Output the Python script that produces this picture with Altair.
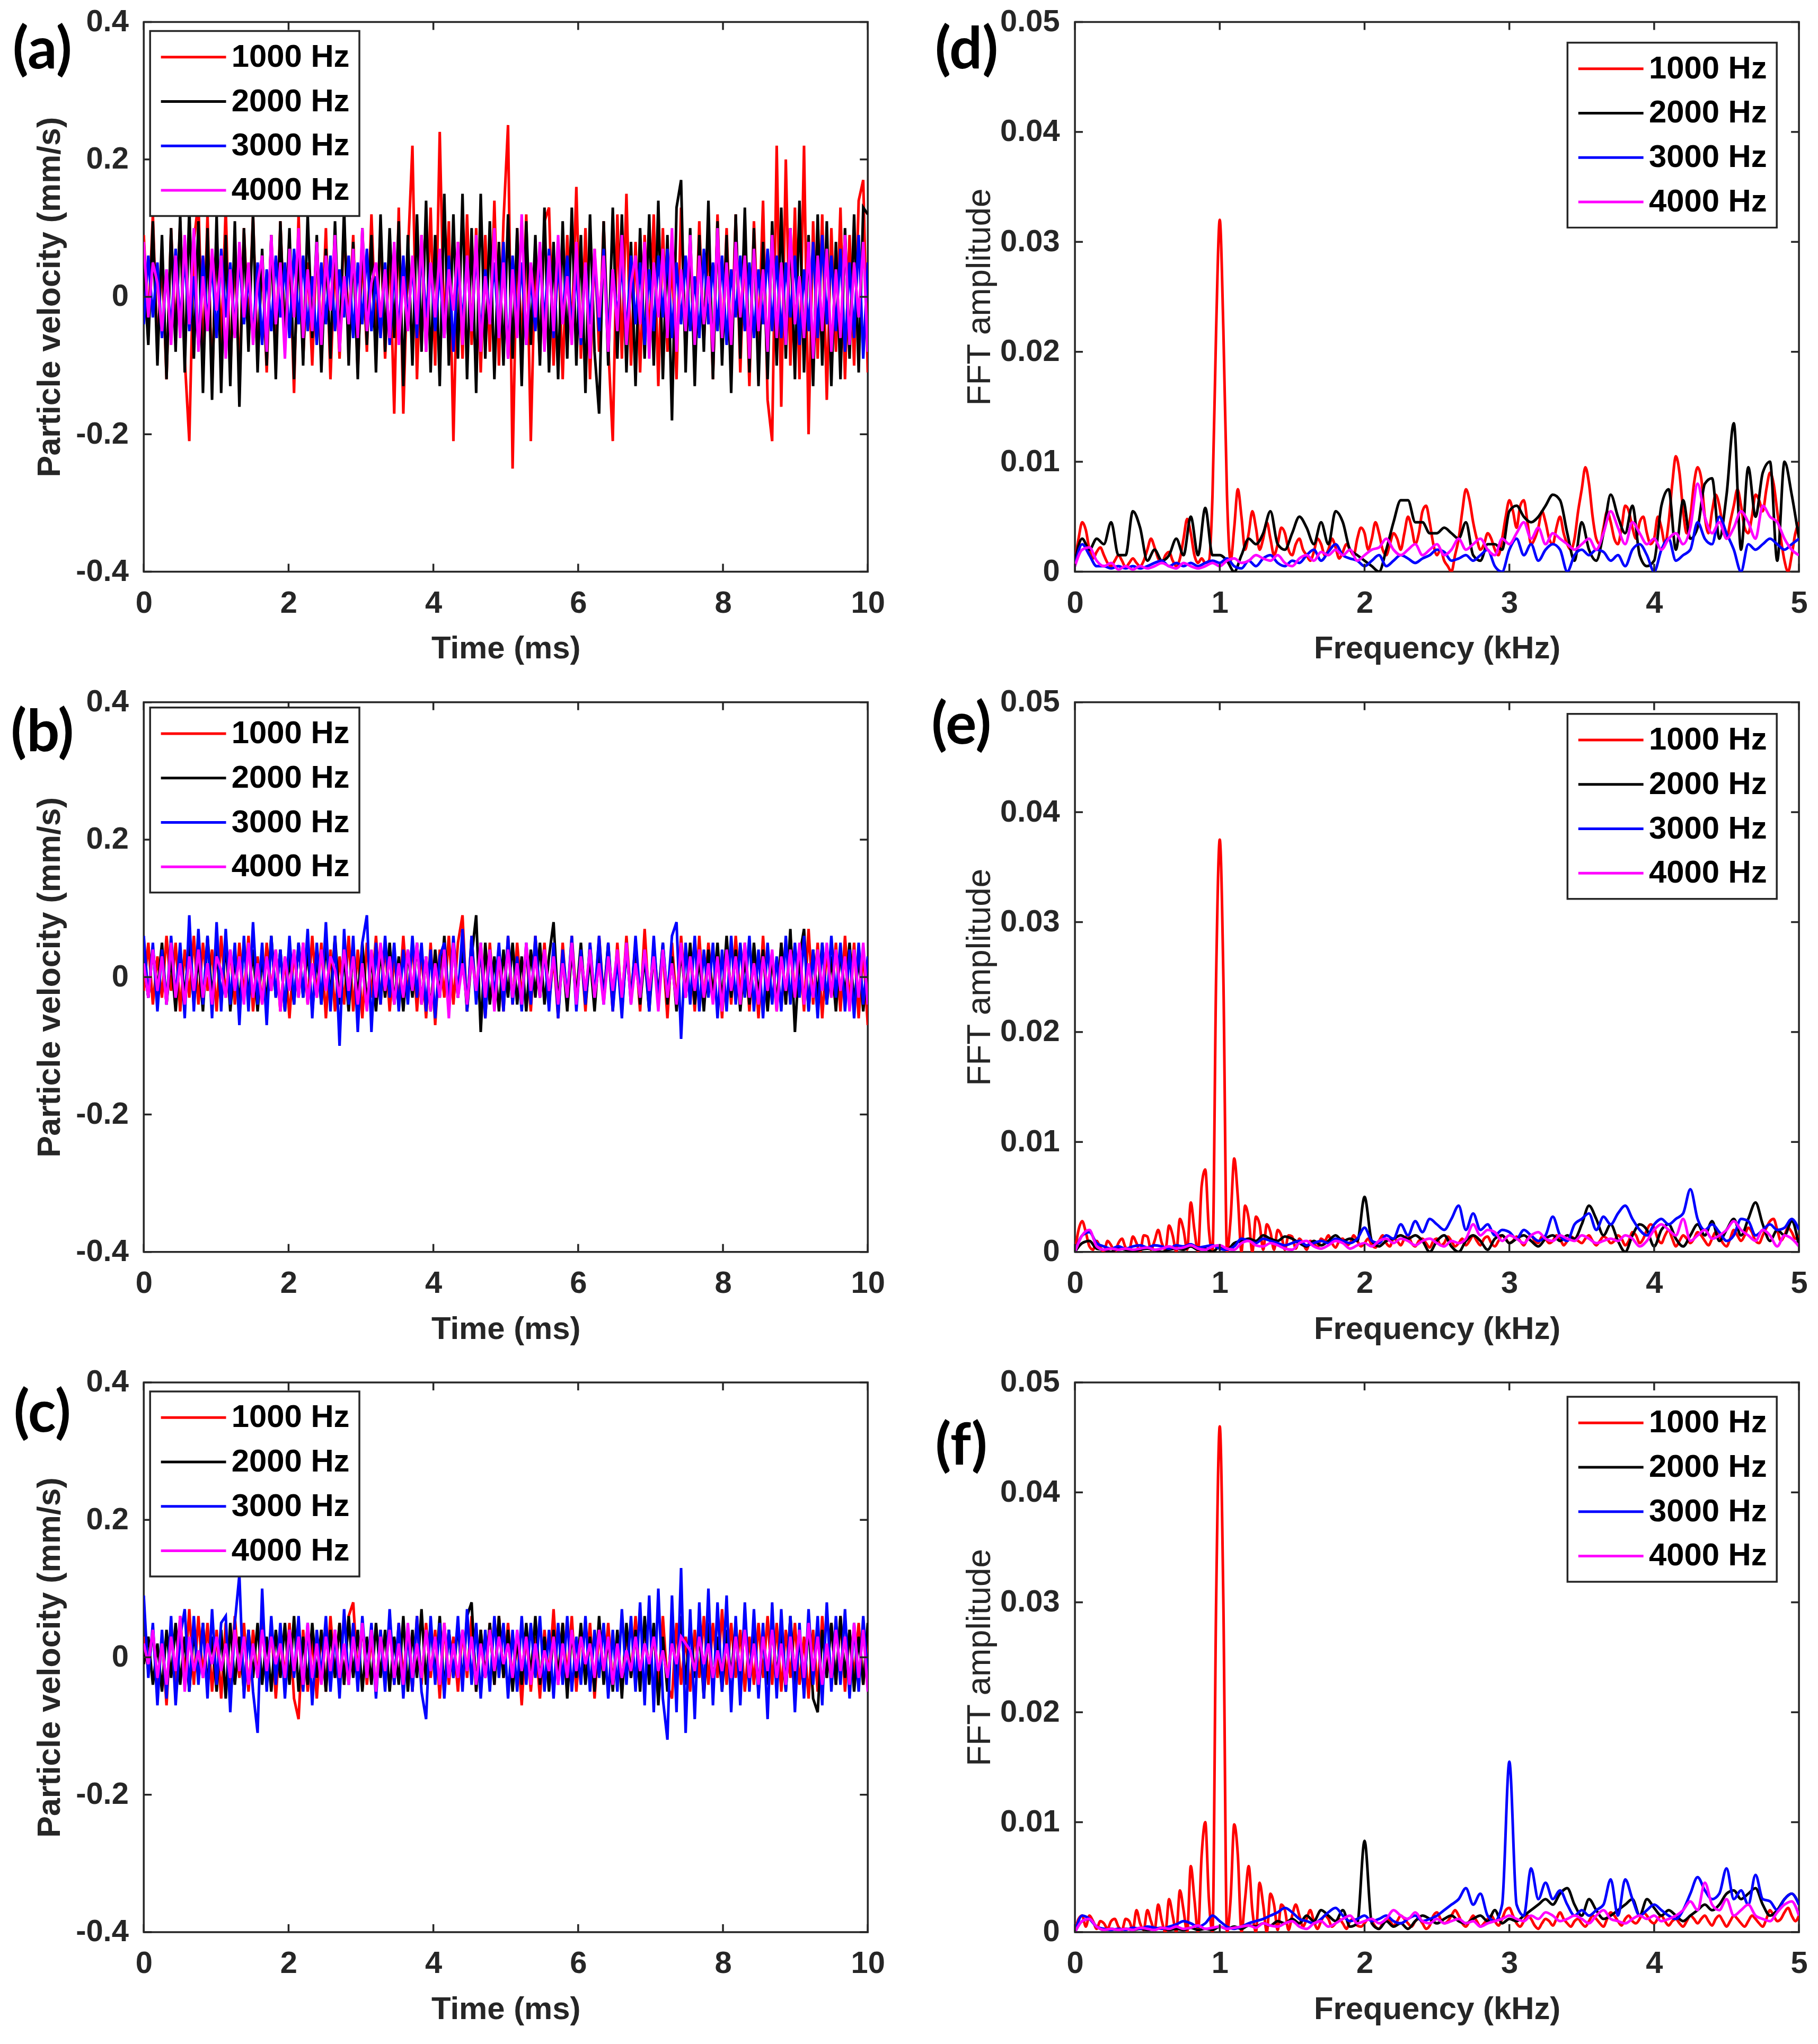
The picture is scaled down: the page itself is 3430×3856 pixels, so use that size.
import numpy as np
import pandas as pd
import altair as alt

SERIES = ["1000 Hz", "2000 Hz", "3000 Hz", "4000 Hz"]
COLORS = ["#ff0000", "#000000", "#0000ff", "#ff00ff"]

# particle velocity in 0.01 mm/s, read left to right over 0-10 ms
a_red = [9, -4, 12, -8, 6, -12, 10, -6, 11, -9,
         -21, 8, 14, -10, 12, -13, 9, -7, 13, -11,
         7, -12, 10, -5, 12, -9, 6, -11, 9, -8,
         11, -6, 8, -14, 12, -9, 5, -10, 8, -7,
         10, -12, 6, -9, 11, -5, 9, -11, 7, -8,
         12, -6, 10, -9, 8, -17, 13, -17, 6, 22,
         -12, 9, -8, 13, -10, 24, -6, 11, -21, 8,
         -9, 12, -7, 10, -11, 9, -8, 14, -10, 11,
         25, -25, 10, -8, 12, -21, 7, -9, 11, 13,
         -10, 8, -12, 9, -6, 16, -9, 10, -12, 7,
         -8, 11, -7, -21, 12, -9, 15, -10, 8, -11,
         9, -7, 12, -13, 10, -8, 6, -12, 13, -9,
         8, -10, 11, -7, 9, -12, 12, -8, 10, -9,
         12, -11, 9, -13, 11, -7, 14, -15, -21, 22,
         -16, 20, -10, 13, -12, 22, -20, 11, -9, 12,
         -15, 10, -8, 13, -12, 9, -10, 14, 17, -11]
a_black = [4, -7, 11, -10, 9, -12, 10, -8, 12, -11,
           13, -9, 11, -14, 10, -15, 12, -14, 9, -13,
           11, -16, 10, -8, 12, -11, 7, -10, 9, -12,
           11, -7, 10, -12, 8, -10, 12, -6, 9, -11,
           7, -9, 11, -8, 13, -10, 8, -12, 10, -7,
           9, -11, 12, -8, 10, -6, 11, -13, 9, -10,
           12, -8, 14, -11, 9, -13, 15, -10, 12, -9,
           15, -12, 10, -14, 15, -9, 11, -12, 8, -10,
           12, -9, 10, -13, 11, -7, 9, -10, 13, -11,
           8, -12, 11, -9, 13, -10, 9, -14, 12, -8,
           -17, 11, -10, 13, -9, 12, -11, 8, -13, 10,
           -9, 12, -10, 14, -12, 9, -18, 13, 17, -11,
           10, -13, 9, -8, 14, -12, 11, -10, 9, -14,
           12, -9, 13, -11, 10, -13, 8, -12, 11, -10,
           13, -9, 10, -12, 14, -11, 9, -13, 12, -10,
           11, -13, 8, -12, 10, -9, 12, -11, 13, 12]
a_blue = [-4, 6, -3, 5, -6, 4, -5, 7, -4, 6,
          -5, 3, -7, 6, -4, 5, -6, 7, -3, 5,
          -5, 6, -4, 3, -6, 5, -7, 4, -5, 6,
          -3, 5, -6, 7, -4, 6, -5, 3, -7, 5,
          -4, 6, -5, 4, -3, 6, -6, 5, -4, 7,
          -5, 3, -6, 5, -7, 4, -5, 6, -4, 5,
          -6, 7, -3, 5, -5, 4, -6, 6, -8, 5,
          -4, 6, -5, 7, -6, 4, -3, 5, -6, 8,
          -9, 6, -4, 5, -7, 3, -5, 6, -4, 7,
          -6, 5, -3, 6, -5, 4, -7, 5, -4, 6,
          -5, 7, -6, 4, -3, 5, -6, 6, -4, 5,
          -7, 4, -5, 6, -3, 7, -6, 5, -4, 6,
          -5, 3, -6, 7, -4, 5, -5, 6, -7, 4,
          -3, 6, -5, 5, -6, 4, -4, 7, -5, 6,
          -6, 5, -3, 6, -7, 4, -5, 8, -6, 9,
          -4, 6, -5, 7, -8, 5, -6, 9, -9, 5]
a_magenta = [8, -3, 5, 2, -5, 4, -7, 6, -6, 9,
             -4, 10, -8, 3, -5, 7, -2, 6, -9, 4,
             -6, 8, -3, 5, -7, 2, 6, -8, 9, -4,
             5, -9, 7, -3, 10, -6, 4, -5, 8, -7,
             6, -2, 9, -8, 3, -4, 7, -6, 10, -5,
             2, 5, -3, 4, -6, 8, -7, 3, -5, 6,
             -4, 9, -8, 5, -3, 7, -6, 4, -2, 8,
             -7, 6, -5, 9, -8, 3, -4, 10, -6, 5,
             -9, 4, -6, 12, -7, 5, -3, 8, -8, 6,
             -5, 9, -4, 3, -7, 8, -6, 5, -9, 7,
             -3, 6, -8, 4, -5, 9, -7, 2, 6, -4,
             8, -9, 5, -3, 7, -6, 10, -8, 4, -5,
             9, -7, 6, -4, 3, -8, 10, -6, 5, -7,
             8, -3, 6, -9, 7, -5, 4, -8, 9, -6,
             5, -7, 10, -4, 3, -6, 8, -9, 6, -5,
             7, -8, 4, -6, 9, -7, 5, -3, 8, -8]

b_red = [-2, 5, -4, 3, -3, 6, -2, 5, -5, 4,
         -3, 6, -4, 5, -2, 4, -5, 6, -3, 4,
         -4, 5, -3, 6, -5, 3, -4, 5, -2, 4,
         -5, 3, -6, 4, -3, 5, -4, 6, -3, 5,
         -6, 4, -5, 3, -4, 6, -5, 4, -6, 5,
         -3, 6, -4, 5, -5, 3, -4, 6, -3, 5,
         -5, 4, -6, 5, -7, 4, -3, 6, -4, 5,
         9, -5, 6, -3, 4, -6, 5, -4, 3, -5,
         6, -4, 5, -3, 4, -5, 6, -3, 5, -4,
         3, -6, 5, -4, 6, -3, 4, -5, 5, -4,
         6, -3, 4, -5, 5, -4, 6, -3, 4, -5,
         7, -4, 5, -3, 4, -6, 5, -4, 6, -3,
         4, -5, 6, -4, 5, -3, 4, -6, 5, -4,
         6, -3, 5, -5, 4, -6, 6, -4, 3, -5,
         5, -4, 6, -3, 4, -5, 7, -4, 5, -6,
         4, -3, 5, -5, 6, -4, 5, -6, 4, -7]
b_black = [2, -3, 4, -2, 5, -4, 3, -5, 4, -3,
           5, -4, 3, -5, 6, -3, 4, -4, 5, -5,
           3, -4, 5, -3, 4, -5, 3, -4, 6, -3,
           4, -5, 3, -4, 5, -3, 4, -5, 3, -4,
           5, -3, 6, -4, 3, -5, 4, -3, 5, -4,
           3, -5, 4, -3, 5, -4, 3, -5, 4, -3,
           5, -4, 3, -5, 4, -3, 6, -4, 5, -3,
           4, -5, 3, 9, -8, 5, -4, 3, -5, 4,
           -3, 5, -4, 3, -5, 4, -3, 5, -4, 3,
           8, -4, 3, -5, 4, -3, 5, -4, 3, -5,
           4, -3, 5, -4, 3, -5, 4, -3, 5, -4,
           3, -5, 4, -3, 5, -4, 3, -5, 4, -3,
           5, -4, 3, -5, 4, -3, 5, -4, 6, -3,
           4, -5, 3, -4, 5, -3, 4, -5, 3, -4,
           5, -4, 7, -8, 3, 7, -5, 4, -3, 5,
           -4, 3, -5, 4, -3, 5, -4, 3, -5, 2]
b_blue = [6, -3, 5, -5, 4, -4, 6, -3, 5, -6,
          9, -5, 7, -4, 6, -6, 8, -5, 7, -4,
          5, -7, 6, -5, 8, -4, 5, -7, 6, -3,
          4, -5, 6, -4, 5, -3, 7, -6, 5, -4,
          8, -5, 6, -10, 7, -4, 6, -8, 5, 9,
          -8, 5, -4, 6, -3, 5, -5, 4, -4, 6,
          -3, 5, -5, 4, -6, 3, 5, -4, 6, -3,
          7, -5, 6, -4, 5, -6, 4, -3, 5, -5,
          6, -4, 3, -5, 5, -4, 6, -3, 4, -5,
          5, -6, 4, -3, 6, -5, 4, -4, 5, -3,
          6, -4, 5, -5, 3, -6, 5, -4, 6, -3,
          4, -5, 6, -4, 5, -3, 6, 8, -9, 5,
          -4, 6, -5, 4, -3, 5, -6, 4, -5, 6,
          -4, 5, -3, 6, -5, 4, -6, 5, -4, 3,
          -5, 6, -4, 5, -3, 6, -5, 4, -6, 5,
          -4, 6, -3, 5, -5, 4, -6, 5, -4, 3]
b_magenta = [2, -3, 4, -2, 3, -4, 5, -3, 2, -4,
             3, -2, 4, -3, 2, -4, 3, 1, -3, 4,
             -2, 3, -4, 5, -3, 2, -4, 3, -2, 4,
             -5, 3, -2, 4, -3, 5, -4, 2, -3, 4,
             -2, 3, 1, -3, 4, -2, 3, -4, 2, -5,
             4, -3, 5, -2, 3, -4, 2, -3, 4, -2,
             5, -4, 3, -5, 2, -3, 4, -6, 5, -3,
             2, -4, 3, -2, 5, -3, 4, -5, 3, -2,
             4, -3, 2, -4, 5, -2, 3, -3, 4, -2,
             3, -4, 2, -3, 5, -4, 3, -2, 4, -3,
             2, -4, 3, -2, 4, -3, 5, -4, 2, -3,
             4, -2, 3, -5, 4, -3, 2, -4, 5, -3,
             3, -2, 4, -3, 2, -4, 3, -5, 4, -2,
             3, -4, 5, -3, 2, -4, 3, -2, 4, -5,
             3, -2, 4, -3, 5, -4, 2, -3, 4, -2,
             5, -3, 4, -2, 3, -5, 4, -3, 5, -4]

c_red = [3, -2, 4, -5, 3, -7, 5, -4, 6, -3,
         7, -4, 6, -3, 5, -5, 4, -6, 5, -4,
         6, -3, 5, -5, 4, -3, 6, -4, 5, -6,
         4, -3, 5, -6, -9, 4, -5, 3, -6, 4,
         -5, 6, -3, 5, -4, 6, 8, -3, 5, -4,
         3, -5, 4, -3, 6, -4, 5, -3, 4, -5,
         6, -4, 5, -3, 4, -6, 5, -4, 3, -5,
         4, -3, 6, -5, 4, -3, 5, -4, 6, -3,
         5, -4, 3, -7, 4, -5, 3, -6, 4, -3,
         7, -4, 5, -3, 6, -5, 4, -3, 5, -6,
         4, -3, 5, -4, 3, -5, 4, -3, 6, -4,
         5, -3, 4, -5, 6, -4, -6, 5, -4, 3,
         -5, 4, -3, 6, -4, 5, -3, 7, -4, 5,
         -3, 4, -5, 3, -4, 5, -3, 6, -4, 5,
         -5, 4, -3, 5, -4, 3, -6, 4, -5, 6,
         -3, 5, -4, 6, -5, 4, -3, 5, -4, 3]
c_black = [-1, 3, -4, 2, -5, 4, -3, 5, -4, 3,
           -5, 4, -3, 5, -4, 3, -5, 4, -6, 5,
           -4, 3, -5, 4, -3, 5, -4, 3, -5, 4,
           -3, 5, -4, 6, -5, 3, -4, 5, -3, 4,
           -5, 4, -3, 5, -4, 6, -3, 4, -5, 3,
           -4, 5, -3, 4, -5, 3, -4, 6, -5, 4,
           -3, 7, -4, 5, -3, 6, -5, 4, -3, 5,
           -4, 6, 8, -5, 4, -3, 5, -4, 6, -3,
           4, -5, 3, -4, 5, -3, 6, -4, 3, -5,
           4, -3, 5, -6, 4, -3, 5, -4, 3, -5,
           6, -4, 3, -5, 4, -6, 5, -3, 4, -5,
           6, -4, 5, -7, 3, -5, 4, -3, 6, -4,
           5, -3, 4, -6, 5, -4, 3, -5, 4, -3,
           5, -4, 6, -3, 4, -5, 3, -4, 5, -3,
           4, -5, 6, -4, 3, -5, 5, -6, -8, 4,
           -3, 5, -4, 6, -3, 4, -5, 3, -4, 5]
c_blue = [9, -3, 5, -7, 4, -6, 6, -7, 3, 7,
          -5, 6, -4, 5, -6, 7, -4, 5, 6, -8,
          5, 12, -6, 4, -5, -11, 10, -5, 6, -4,
          5, -6, 4, -3, 6, -5, 5, -7, 4, -3,
          6, -5, 4, -6, 7, -4, 5, -5, 6, -3,
          5, -6, 4, -5, 7, -4, 5, -6, 4, -5,
          6, -5, -9, 6, -4, 5, -6, 4, -3, 6,
          -5, 7, -4, 5, -6, 4, -5, 6, -3, 5,
          -6, 4, -5, 6, -4, 5, -3, 6, -5, 4,
          -6, 5, -4, 6, -5, 3, -4, 6, -5, 4,
          -3, 5, -6, 4, -5, 7, -4, 6, -5, 8,
          -7, 9, -8, 10, -6, -12, 9, -8, 13, -11,
          7, -9, 8, -6, 10, -7, 8, -5, 9, -8,
          6, -7, 8, -5, 7, -6, 5, -9, 8, -6,
          7, -5, 6, -8, 5, -6, 7, -4, 6, -7,
          8, -5, 6, -4, 7, -6, 5, -5, 6, -3]
c_magenta = [2, -1, 4, -3, 2, -4, 3, -2, 6, -5,
             3, -2, 1, -3, 2, -1, 3, -2, 2, -3,
             4, -2, 3, -4, 2, -3, 4, -2, 3, -1,
             2, -3, 4, -2, 3, -4, 5, -3, 2, -4,
             3, -2, 4, -3, 2, -4, 3, -2, 5, -3,
             4, -5, 3, -2, 4, -3, 2, -4, 5, -3,
             2, -3, 4, -2, 3, -4, 5, -3, 2, -3,
             4, -2, 3, -4, 2, -3, 4, -2, 3, -1,
             2, -3, 4, -2, 3, -4, 2, -3, 1, -2,
             3, -4, 2, -3, 4, -2, 3, -1, 2, -3,
             4, -2, 3, -4, 2, -3, 1, -2, 3, -2,
             2, -1, 3, -2, 1, -3, 2, -1, 3, 2,
             1, -2, 3, -1, 2, -3, 1, -2, 2, -3,
             3, -2, 4, -3, 2, -4, 3, -2, 4, -3,
             2, -4, 3, -2, 4, -3, 5, -2, 3, -4,
             2, -3, 4, -2, 3, -4, 5, -3, 4, -5]

# FFT amplitude in units of 1e-4 over 0-5 kHz
# the 1000 Hz curves are read every 0.025 kHz, the others every 0.05 kHz
d_red = [10, 30, 45, 38, 20, 12, 18, 22, 15, 8,
         5, 10, 15, 10, 4, 8, 12, 8, 5, 10,
         20, 30, 22, 12, 8, 15, 18, 10, 5, 12,
         30, 48, 35, 15, 8, 12, 8, 10, 70, 220,
         320, 220, 70, 10, 40, 75, 50, 20, 35, 55,
         40, 20, 30, 45, 30, 15, 25, 40, 35, 20,
         15, 25, 30, 20, 15, 10, 18, 30, 25, 15,
         20, 30, 22, 12, 18, 25, 20, 15, 30, 40,
         35, 20, 30, 45, 35, 20, 15, 25, 35, 30,
         20, 35, 50, 40, 25, 35, 55, 60, 45, 25,
         15, 20, 10, 5, 0, 15, 30, 55, 75, 65,
         45, 30, 20, 25, 35, 30, 20, 15, 30, 50,
         65, 55, 40, 60, 65, 45, 25, 30, 40, 55,
         45, 30, 25, 40, 50, 35, 25, 20, 30, 55,
         75, 95, 80, 50, 30, 25, 40, 55, 45, 30,
         25, 40, 60, 55, 40, 30, 45, 50, 35, 25,
         30, 50, 40, 25, 45, 80, 105, 90, 55, 35,
         50, 80, 95, 85, 50, 35, 55, 70, 60, 40,
         30, 45, 60, 75, 60, 40, 35, 50, 70, 65,
         55, 75, 90, 80, 55, 30, 10, 0, 15, 35,
         45]
d_black = [10, 30, 20, 30, 25, 45, 15, 15, 55, 40,
           10, 20, 10, 15, 30, 15, 50, 15, 58, 15,
           15, 10, 0, 15, 30, 25, 35, 55, 25, 20,
           35, 50, 40, 25, 45, 25, 55, 45, 20, 15,
           10, 5, 0, 20, 45, 65, 65, 45, 45, 35,
           35, 40, 35, 30, 45, 15, 10, 25, 25, 20,
           55, 60, 50, 45, 50, 60, 70, 65, 35, 10,
           45, 20, 10, 35, 70, 50, 35, 60, 15, 5,
           10, 60, 75, 20, 65, 30, 40, 80, 85, 30,
           70, 135, 20, 95, 50, 90, 100, 10, 100, 70,
           30]
d_blue = [5, 25, 15, 5, 5, 3, 5, 3, 5, 3,
          5, 8, 10, 5, 8, 5, 8, 5, 8, 10,
          8, 12, 5, 3, 10, 5, 12, 15, 8, 5,
          10, 8, 15, 20, 10, 18, 25, 15, 12, 10,
          5, 10, 15, 5, 10, 15, 12, 8, 12, 15,
          20, 18, 10, 12, 15, 10, 15, 20, 5, 0,
          20, 30, 15, 25, 10, 20, 25, 20, 0, 15,
          20, 15, 20, 18, 10, 15, 5, 20, 25, 15,
          0, 20, 30, 10, 15, 20, 45, 30, 25, 50,
          35, 20, 0, 25, 20, 25, 30, 25, 20, 25,
          30]
d_magenta = [5, 20, 22, 10, 5, 8, 2, 5, 2, 5,
             3, 5, 8, 5, 3, 8, 5, 3, 5, 8,
             5, 10, 12, 8, 10, 15, 12, 10, 15, 8,
             5, 12, 15, 10, 18, 15, 20, 15, 20, 10,
             15, 20, 22, 30, 20, 15, 20, 25, 15, 20,
             25, 15, 20, 30, 20, 25, 30, 20, 15, 30,
             25, 35, 45, 30, 40, 25, 35, 30, 25, 20,
             25, 30, 20, 35, 55, 40, 25, 45, 35, 25,
             30, 20, 30, 35, 25, 40, 80, 50, 35, 45,
             30, 40, 55, 45, 30, 60, 50, 45, 30, 20,
             15]

e_red = [0, 20, 28, 18, 5, 2, 10, 4, 0, 10,
         6, 0, 8, 12, 4, 2, 14, 8, 0, 15,
         14, 2, 10, 20, 8, 2, 24, 15, 0, 30,
         20, 2, 45, 20, 0, 60, 75, 20, 0, 250,
         375, 250, 0, 30, 85, 50, 0, 42, 30, 0,
         32, 25, 2, 25, 18, 2, 20, 15, 2, 15,
         14, 3, 12, 8, 2, 10, 8, 4, 12, 10,
         15, 8, 4, 10, 12, 6, 8, 15, 10, 5,
         8, 12, 6, 4, 10, 15, 8, 5, 12, 10,
         6, 12, 15, 8, 5, 10, 12, 8, 4, 10,
         12, 6, 8, 14, 10, 5, 8, 12, 6, 10,
         15, 10, 6, 12, 14, 8, 5, 10, 15, 12,
         8, 10, 14, 10, 6, 12, 15, 10, 8, 14,
         12, 8, 10, 15, 12, 6, 10, 14, 12, 10,
         8, 12, 15, 10, 6, 10, 14, 12, 8, 10,
         15, 12, 6, 10, 18, 15, 8, 12, 20, 25,
         22, 12, 8, 15, 20, 12, 5, 10, 15, 12,
         8, 12, 18, 15, 10, 6, 12, 18, 14, 8,
         5, 12, 20, 15, 10, 15, 22, 18, 10, 8,
         15, 22, 28, 30, 20, 10, 15, 22, 18, 12,
         15]
e_black = [0, 8, 10, 3, 2, 0, 3, 2, 0, 2,
           3, 2, 0, 2, 3, 2, 5, 2, 3, 0,
           5, 2, 8, 10, 12, 10, 15, 12, 10, 14,
           12, 8, 5, 10, 6, 10, 15, 10, 12, 10,
           50, 10, 5, 10, 12, 15, 12, 15, 10, 0,
           10, 15, 5, 0, 10, 15, 10, 2, 12, 15,
           8, 12, 15, 10, 5, 12, 15, 10, 15, 12,
           25, 42, 30, 15, 25, 10, 0, 15, 25, 20,
           5, 20, 25, 12, 5, 15, 25, 15, 28, 10,
           20, 30, 15, 30, 45, 25, 10, 20, 15, 28,
           5]
e_blue = [0, 15, 18, 8, 5, 3, 5, 3, 5, 6,
          4, 6, 5, 3, 6, 5, 7, 4, 5, 6,
          3, 2, 5, 12, 10, 8, 12, 10, 8, 6,
          8, 10, 6, 8, 10, 8, 12, 10, 8, 12,
          22, 10, 8, 15, 12, 25, 15, 28, 18, 30,
          25, 20, 30, 42, 20, 35, 20, 25, 15, 20,
          18, 12, 20, 15, 10, 15, 32, 15, 10, 25,
          30, 35, 20, 32, 25, 35, 42, 30, 20, 15,
          25, 30, 25, 30, 35, 57, 30, 20, 25, 18,
          10, 15, 30, 28, 15, 20, 25, 20, 22, 30,
          20]
e_magenta = [0, 15, 20, 5, 2, 3, 2, 3, 2, 3,
             4, 2, 3, 5, 3, 4, 6, 3, 2, 5,
             6, 3, 2, 8, 10, 6, 5, 8, 6, 3,
             2, 8, 10, 5, 3, 6, 10, 8, 3, 6,
             8, 5, 10, 12, 8, 12, 10, 6, 10, 12,
             8, 5, 10, 8, 12, 25, 15, 20, 18, 10,
             15, 12, 8, 15, 18, 12, 10, 15, 12, 10,
             15, 12, 8, 10, 12, 10, 15, 12, 5, 10,
             20, 25, 20, 15, 30, 10, 15, 20, 12, 15,
             20, 28, 20, 15, 10, 20, 15, 5, 15, 12,
             5]

f_red = [0, 12, 15, 5, 15, 10, 3, 10, 8, 3,
         10, 12, 5, 2, 12, 10, 2, 20, 8, 2,
         20, 10, 2, 25, 10, 0, 30, 15, 0, 38,
         20, 0, 60, 30, 0, 70, 100, 30, 0, 300,
         460, 300, 0, 30, 98, 70, 0, 30, 60, 20,
         0, 45, 25, 0, 35, 25, 2, 25, 20, 2,
         15, 25, 15, 5, 12, 20, 10, 3, 10, 15,
         12, 5, 8, 12, 8, 3, 10, 12, 6, 5,
         8, 12, 10, 5, 3, 8, 12, 10, 6, 10,
         15, 12, 8, 5, 10, 12, 8, 3, 6, 15,
         18, 12, 8, 10, 15, 20, 15, 8, 5, 10,
         15, 10, 5, 8, 12, 15, 10, 6, 12, 20,
         22, 15, 8, 5, 10, 15, 12, 6, 3, 8,
         12, 10, 6, 12, 18, 12, 8, 5, 10, 12,
         8, 5, 10, 15, 12, 8, 5, 12, 18, 15,
         10, 6, 12, 15, 10, 8, 12, 18, 15, 10,
         8, 12, 15, 10, 6, 10, 12, 8, 5, 10,
         15, 12, 8, 12, 15, 10, 6, 12, 15, 10,
         5, 10, 15, 12, 8, 5, 10, 15, 12, 8,
         5, 12, 20, 15, 10, 12, 18, 22, 15, 10,
         15]
f_black = [0, 10, 12, 5, 2, 3, 2, 3, 2, 3,
           2, 3, 4, 2, 3, 2, 4, 2, 3, 2,
           5, 3, 5, 3, 6, 5, 8, 6, 10, 8,
           12, 8, 15, 10, 20, 15, 10, 20, 5, 8,
           83, 8, 3, 10, 5, 8, 3, 10, 15, 12,
           8, 12, 15, 10, 8, 12, 15, 10, 20, 8,
           12, 10, 15, 20, 25, 30, 25, 35, 40, 25,
           15, 30, 20, 12, 15, 20, 25, 30, 15, 30,
           22, 15, 20, 15, 10, 15, 20, 25, 20, 25,
           35, 38, 30, 35, 40, 25, 15, 20, 30, 35,
           25]
f_blue = [0, 15, 12, 5, 3, 2, 3, 2, 4, 3,
          5, 4, 3, 5, 7, 10, 8, 5, 8, 15,
          10, 5, 3, 5, 8, 10, 12, 15, 18, 22,
          18, 12, 10, 8, 12, 18, 22, 15, 10, 12,
          15, 10, 12, 15, 10, 8, 12, 15, 10, 12,
          15, 20, 25, 30, 40, 25, 35, 15, 10, 25,
          155, 25, 15, 58, 30, 45, 30, 38, 25, 15,
          20, 15, 20, 25, 48, 15, 48, 30, 15, 20,
          25, 20, 15, 12, 20, 35, 50, 38, 30, 35,
          58, 30, 38, 25, 52, 30, 28, 20, 30, 35,
          25]
f_magenta = [0, 10, 12, 5, 2, 3, 2, 3, 2, 4,
             3, 2, 4, 3, 5, 3, 4, 6, 3, 4,
             5, 3, 4, 5, 6, 4, 8, 6, 5, 8,
             10, 5, 3, 8, 10, 5, 8, 12, 15, 8,
             10, 12, 8, 12, 20, 15, 12, 18, 10, 8,
             12, 8, 10, 12, 8, 10, 5, 8, 10, 12,
             15, 12, 10, 15, 12, 18, 15, 10, 12, 15,
             12, 8, 15, 20, 12, 10, 8, 12, 15, 12,
             15, 10, 12, 15, 20, 28, 20, 45, 25, 20,
             30, 15, 20, 25, 15, 12, 10, 18, 25, 28,
             15]

W, H = 1370, 1040
TICK = 15
AXC = "#262626"
FONT = "Liberation Sans"


def frame(arrays, x_max, unit):
    parts = []
    for name, vals in zip(SERIES, arrays):
        parts.append(pd.DataFrame({
            "x": np.linspace(0, x_max, len(vals)),
            "y": np.asarray(vals, dtype=float) * unit,
            "s": name,
        }))
    return pd.concat(parts, ignore_index=True)


def panel(df, tag, tag_x, tag_y, fft, leg_x, leg_y):
    if fft:
        xdom, xticks, xtitle = [0, 5], [0, 1, 2, 3, 4, 5], "Frequency (kHz)"
        ydom, yticks, ytitle = [0, 0.05], [0, 0.01, 0.02, 0.03, 0.04, 0.05], "FFT amplitude"
        ylab = "datum.value == 0 ? '0' : format(datum.value, '.2f')"
        interp = "monotone"
        ytw, yts, ytp = "normal", 64, 6
    else:
        xdom, xticks, xtitle = [0, 10], [0, 2, 4, 6, 8, 10], "Time (ms)"
        ydom, yticks, ytitle = [-0.4, 0.4], [-0.4, -0.2, 0, 0.2, 0.4], "Particle velocity (mm/s)"
        ylab = "datum.value == 0 ? '0' : (datum.value < 0 ? '-' : '') + format(abs(datum.value), '.1f')"
        interp = "linear"
        ytw, yts, ytp = "bold", 61, 17

    lines = alt.Chart(df).mark_line(strokeWidth=5, interpolate=interp, clip=True).encode(
        x=alt.X("x:Q", scale=alt.Scale(domain=xdom, nice=False, zero=False),
                axis=alt.Axis(values=xticks, title=xtitle, format="d", labelPadding=31,
                              titlePadding=28, titleFontWeight="bold", titleFontSize=60,
                              labelFlush=False, labelOverlap=False)),
        y=alt.Y("y:Q", scale=alt.Scale(domain=ydom, nice=False, zero=False),
                axis=alt.Axis(values=yticks, title=ytitle, labelExpr=ylab, labelPadding=29,
                              titlePadding=ytp, titleFontWeight=ytw, titleFontSize=yts,
                              labelOverlap=False)),
        color=alt.Color("s:N", scale=alt.Scale(domain=SERIES, range=COLORS),
                        legend=alt.Legend(title=None, orient="none", legendX=leg_x, legendY=leg_y,
                                          symbolType="M-1,0H3.25", symbolSize=3364,
                                          symbolStrokeWidth=5, labelOffset=73, labelLimit=500,
                                          labelExpr="datum.label + ' '")),
    )

    # inward ticks on all four sides, like the original figure
    xt = alt.Chart(pd.DataFrame({"x": xticks})).mark_rule(color=AXC, strokeWidth=3.5)
    yt = alt.Chart(pd.DataFrame({"y": yticks})).mark_rule(color=AXC, strokeWidth=3.5)
    ticks = [
        xt.encode(x="x:Q", y=alt.value(H), y2=alt.value(H - TICK)),
        xt.encode(x="x:Q", y=alt.value(0), y2=alt.value(TICK)),
        yt.encode(y="y:Q", x=alt.value(0), x2=alt.value(TICK)),
        yt.encode(y="y:Q", x=alt.value(W), x2=alt.value(W - TICK)),
    ]

    label = alt.Chart(pd.DataFrame({"t": [tag]})).mark_text(
        font="Lato", fontSize=110, fontWeight="bold", color="black",
        align="center", baseline="middle"
    ).encode(text="t:N", x=alt.value(tag_x), y=alt.value(tag_y))

    return alt.layer(lines, *ticks, label).properties(width=W, height=H)


LEG_R = W - 30 - 408

a = panel(frame([a_red, a_black, a_blue, a_magenta], 10, 0.01), "(a)", -192, 55, False, 12, 17)
b = panel(frame([b_red, b_black, b_blue, b_magenta], 10, 0.01), "(b)", -192, 60, False, 12, 10)
c = panel(frame([c_red, c_black, c_blue, c_magenta], 10, 0.01), "(c)", -192, 60, False, 12, 17)
d = panel(frame([d_red, d_black, d_blue, d_magenta], 5, 1e-4), "(d)", -205, 55, True, LEG_R, 39)
e = panel(frame([e_red, e_black, e_blue, e_magenta], 5, 1e-4), "(e)", -215, 45, True, LEG_R, 22)
f = panel(frame([f_red, f_black, f_blue, f_magenta], 5, 1e-4), "(f)", -215, 122, True, LEG_R, 27)

chart = alt.concat(
    a, d, b, e, c, f, columns=2, spacing={"row": 247, "column": 392}, bounds="flush"
).resolve_scale(
    color="independent"
).resolve_legend(
    color="independent"
).properties(
    padding={"left": 10, "top": -3, "right": 10, "bottom": 10},
    background="white",
).configure_view(
    stroke=AXC, strokeWidth=3.5
).configure_axis(
    domain=False, ticks=False, tickSize=0, grid=False,
    labelFont=FONT, labelFontSize=58, labelFontWeight="bold", labelColor=AXC,
    titleFont=FONT, titleColor=AXC,
).configure_legend(
    labelFont=FONT, labelFontSize=60, labelFontWeight="bold", labelColor="black",
    padding=18, rowPadding=22, strokeColor=AXC, strokeWidth=3.5, fillColor="white",
)

chart.save("out.html", embed_options={"renderer": "svg", "actions": False})
